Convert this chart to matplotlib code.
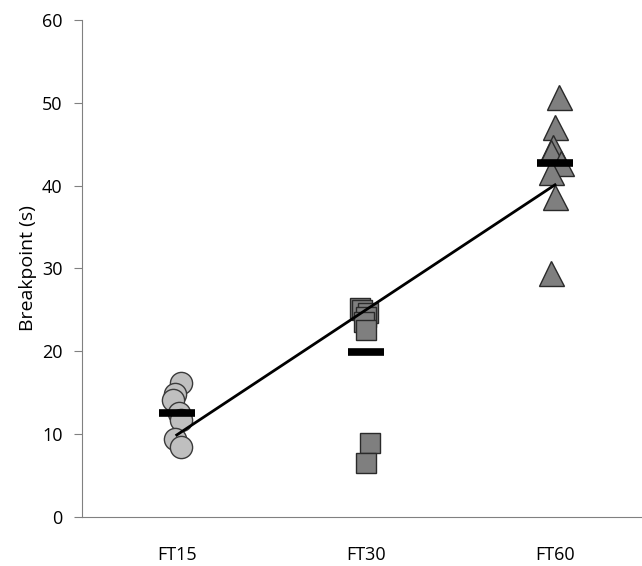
import numpy as np
import matplotlib.pyplot as plt

plt.rcParams['font.family'] = ['Open Sans', 'DejaVu Sans']

# --- dados ---
groups = ['FT15', 'FT30', 'FT60']

ft15 = [16.2, 14.8, 14.1, 12.5, 11.7, 9.4, 8.4]
ft15_jit = [0.02, -0.01, -0.02, 0.01, 0.02, -0.01, 0.02]

ft30 = [25.2, 25.0, 24.6, 24.2, 23.5, 22.6, 8.9, 6.5]
ft30_jit = [-0.03, -0.02, 0.01, 0.0, -0.01, 0.0, 0.02, 0.0]

ft60 = [50.7, 47.1, 44.7, 44.1, 42.7, 41.7, 38.6, 29.5]
ft60_jit = [0.02, 0.0, -0.01, -0.02, 0.03, -0.02, 0.0, -0.02]

means = [12.6, 19.9, 42.7]
fit_y = [9.9, 40.1]   # linha de tendência (FT15 -> FT60)

# --- figura ---
fig = plt.figure(figsize=(6.42, 5.66), dpi=100)
ax = fig.add_axes([0.128, 0.0866, 0.872, 0.8781])

ax.plot(1 + np.array(ft15_jit), ft15, 'o', ms=16, mfc='#bfbfbf', mec='#3a3a3a', mew=1.0, zorder=3)
ax.plot(2 + np.array(ft30_jit), ft30, 's', ms=15, mfc='#7f7f7f', mec='#2a2a2a', mew=1.0, zorder=3)
ax.plot(3 + np.array(ft60_jit), ft60, '^', ms=18, mfc='#7f7f7f', mec='#2a2a2a', mew=1.0, zorder=3)

ax.plot([1, 3], fit_y, '-', color='black', lw=2, zorder=4)

ax.plot([1, 2, 3], means, '_', ms=26, mew=5.5, color='black', zorder=5)

ax.set_xlim(0.5, 3.46)
ax.set_ylim(0, 60)
ax.set_yticks(np.arange(0, 61, 10))
ax.set_xticks([1, 2, 3])
ax.set_xticklabels(groups)
ax.tick_params(axis='x', length=0, pad=21, labelsize=13)
ax.tick_params(axis='y', direction='out', length=6, color='#808080', labelsize=13, pad=8)
ax.set_ylabel('Breakpoint (s)', fontsize=14)

for s in ['top', 'right']:
    ax.spines[s].set_visible(False)
for s in ['left', 'bottom']:
    ax.spines[s].set_color('#808080')

fig.savefig('out.png', dpi=100)
